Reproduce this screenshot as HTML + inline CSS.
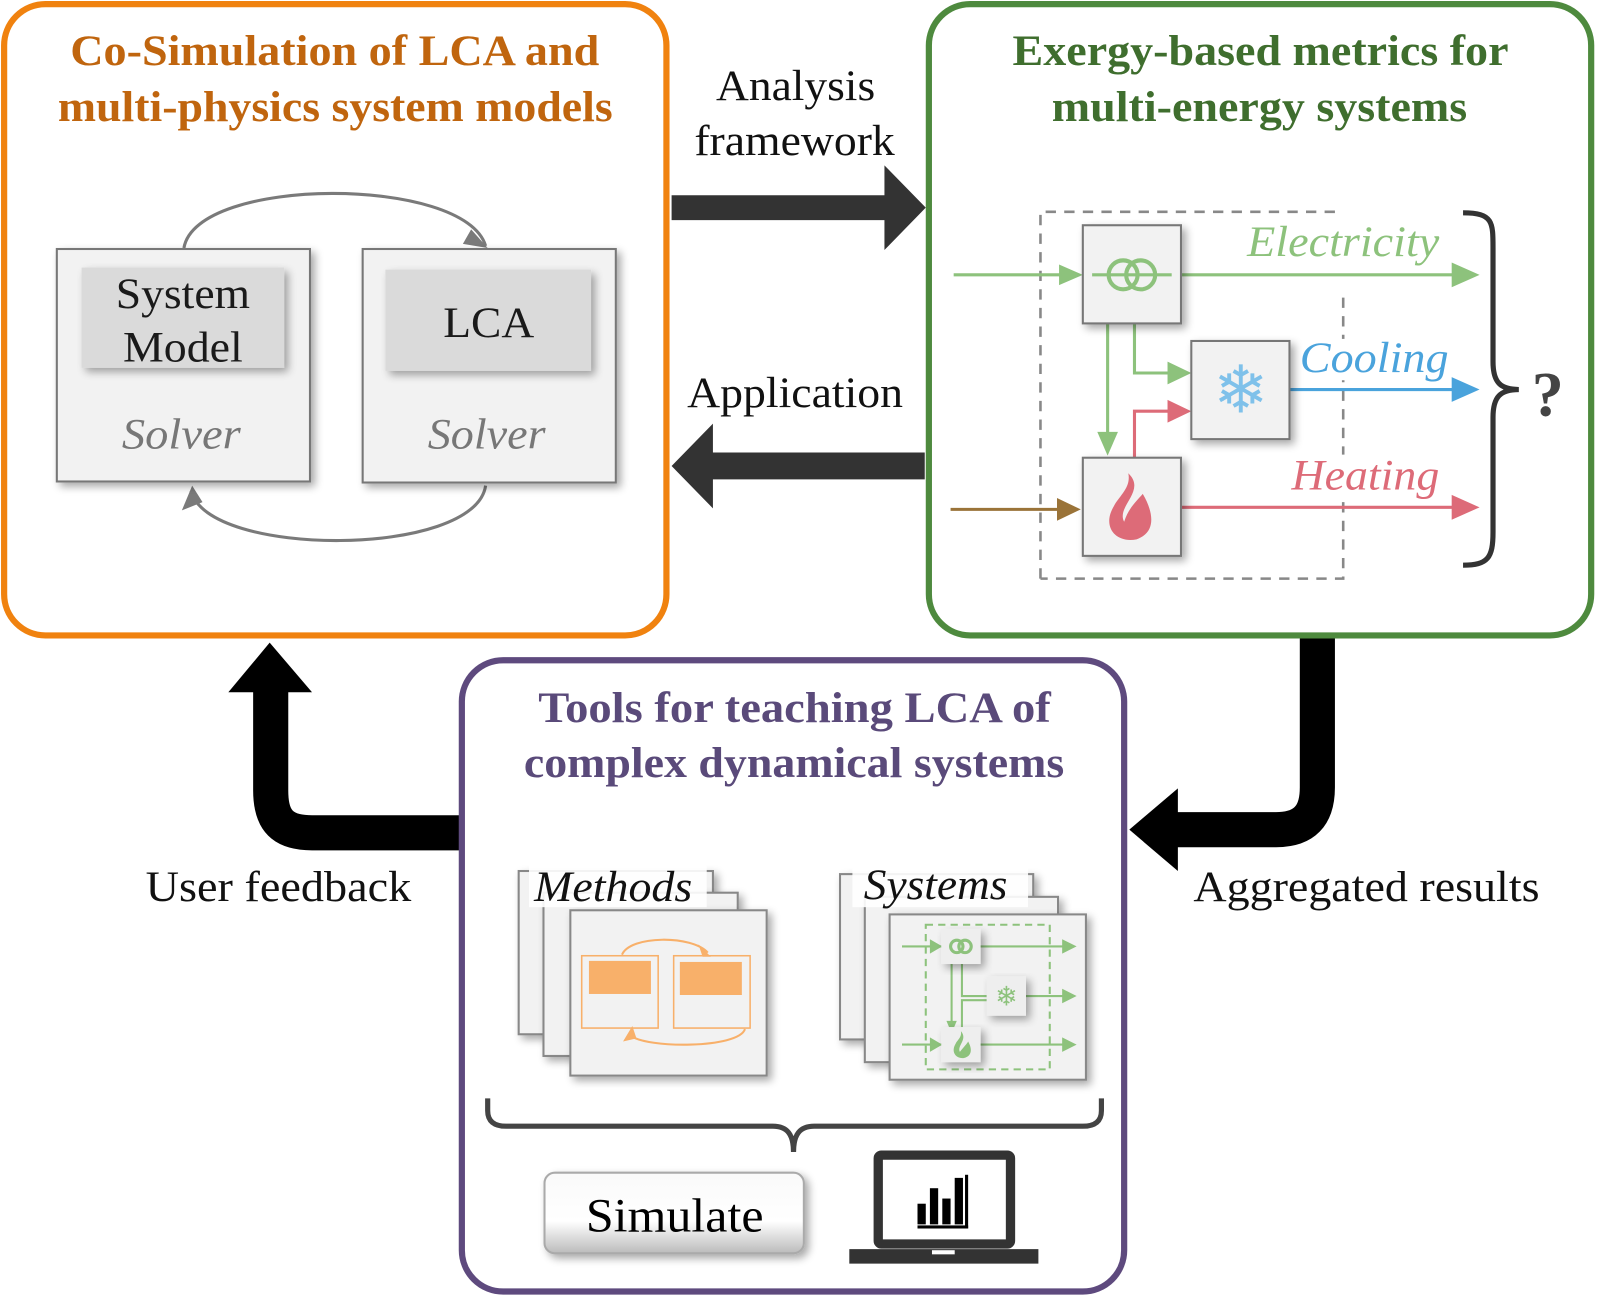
<!DOCTYPE html>
<html><head><meta charset="utf-8"><style>
html,body{margin:0;padding:0;background:#fff;}
svg{display:block;}
text{font-family:"Liberation Serif",serif;}
</style></head><body>
<svg width="1617" height="1306" viewBox="0 0 1565 1264" preserveAspectRatio="none" xmlns="http://www.w3.org/2000/svg">
<defs>
<filter id="sh" x="-20%" y="-20%" width="150%" height="150%"><feGaussianBlur in="SourceAlpha" stdDeviation="4"/><feOffset dx="4" dy="4"/><feComponentTransfer><feFuncA type="linear" slope="0.35"/></feComponentTransfer><feMerge><feMergeNode/><feMergeNode in="SourceGraphic"/></feMerge></filter>
<linearGradient id="btn" x1="0" y1="0" x2="0" y2="1"><stop offset="0" stop-color="#fafafa"/><stop offset="0.6" stop-color="#fff"/><stop offset="1" stop-color="#bbb"/></linearGradient>
</defs>

<!-- Orange box -->
<rect x="4" y="4" width="641" height="611" rx="40" fill="#fff" stroke="#F0820F" stroke-width="6"/>
<text x="68" y="63" font-size="42" font-weight="bold" fill="#C0650E" textLength="512" lengthAdjust="spacingAndGlyphs">Co-Simulation of LCA and</text>
<text x="56" y="117" font-size="42" font-weight="bold" fill="#C0650E" textLength="537" lengthAdjust="spacingAndGlyphs">multi-physics system models</text>

<path d="M178,240 C190,170 450,170 470,238" fill="none" stroke="#7a7a7a" stroke-width="3"/>
<path d="M456,222 L472,240 L448,236z" fill="#7a7a7a"/>
<path d="M470,470 C460,540 200,540 185,475" fill="none" stroke="#7a7a7a" stroke-width="3"/>
<path d="M186,470 L176,494 L196,486z" fill="#7a7a7a"/>

<rect x="55" y="241" width="245" height="225" fill="#f2f2f2" stroke="#777" stroke-width="2" filter="url(#sh)"/>
<rect x="79" y="259" width="196" height="97" fill="#dadada" filter="url(#sh)"/>
<text x="112" y="298" font-size="42" fill="#1a1a1a" textLength="130" lengthAdjust="spacingAndGlyphs">System</text>
<text x="119" y="350" font-size="42" fill="#1a1a1a" textLength="116" lengthAdjust="spacingAndGlyphs">Model</text>
<text x="118" y="434" font-size="42" font-style="italic" fill="#777" textLength="115" lengthAdjust="spacingAndGlyphs">Solver</text>

<rect x="351" y="241" width="245" height="226" fill="#f2f2f2" stroke="#777" stroke-width="2" filter="url(#sh)"/>
<rect x="373" y="261" width="199" height="98" fill="#dadada" filter="url(#sh)"/>
<text x="429" y="326" font-size="42" fill="#1a1a1a" textLength="88" lengthAdjust="spacingAndGlyphs">LCA</text>
<text x="414" y="434" font-size="42" font-style="italic" fill="#777" textLength="114" lengthAdjust="spacingAndGlyphs">Solver</text>

<!-- middle arrows -->
<text x="693" y="97" font-size="42" fill="#111" textLength="154" lengthAdjust="spacingAndGlyphs">Analysis</text>
<text x="672" y="150" font-size="42" fill="#111" textLength="194" lengthAdjust="spacingAndGlyphs">framework</text>
<path d="M650,189 L856,189 L856,160 L896,201 L856,242 L856,213 L650,213z" fill="#333"/>
<text x="665" y="394" font-size="42" fill="#111" textLength="209" lengthAdjust="spacingAndGlyphs">Application</text>
<path d="M895,438 L690,438 L690,410 L650,451 L690,492 L690,464 L895,464z" fill="#333"/>

<!-- Green box -->
<rect x="899" y="4" width="641" height="611" rx="40" fill="#fff" stroke="#4E8A3E" stroke-width="6"/>
<text x="980" y="63" font-size="42" font-weight="bold" fill="#3F6E2E" textLength="480" lengthAdjust="spacingAndGlyphs">Exergy-based metrics for</text>
<text x="1018" y="117" font-size="42" font-weight="bold" fill="#3F6E2E" textLength="402" lengthAdjust="spacingAndGlyphs">multi-energy systems</text>

<path d="M1007,560 L1007,205 L1300,205 M1300,288 L1300,560 L1007,560" fill="none" stroke="#888" stroke-width="2.5" stroke-dasharray="10,8"/>
<rect x="1256" y="328" width="140" height="40" fill="#fff"/>
<rect x="1250" y="440" width="140" height="40" fill="#fff"/>
<!-- electricity -->
<line x1="923" y1="266" x2="1030" y2="266" stroke="#8dc27c" stroke-width="3"/>
<path d="M1025,256 L1048,266 L1025,276z" fill="#8dc27c"/>
<line x1="1143" y1="266" x2="1410" y2="266" stroke="#8dc27c" stroke-width="3"/>
<path d="M1405,254 L1432,266 L1405,278z" fill="#8dc27c"/>
<text x="1207" y="248" font-size="42" font-style="italic" fill="#8dc27c" textLength="186" lengthAdjust="spacingAndGlyphs">Electricity</text>
<!-- internal -->
<path d="M1072,313 L1072,420" stroke="#8dc27c" stroke-width="3" fill="none"/>
<path d="M1062,418 L1072,441 L1082,418z" fill="#8dc27c"/>
<path d="M1098,313 L1098,361 L1135,361" stroke="#8dc27c" stroke-width="3" fill="none"/>
<path d="M1130,350 L1153,361 L1130,372z" fill="#8dc27c"/>
<path d="M1098,443 L1098,398 L1135,398" stroke="#dd6b78" stroke-width="3" fill="none"/>
<path d="M1130,387 L1153,398 L1130,409z" fill="#dd6b78"/>
<!-- cooling -->
<line x1="1248" y1="377" x2="1410" y2="377" stroke="#4aa3dc" stroke-width="3"/>
<path d="M1405,365 L1432,377 L1405,389z" fill="#4aa3dc"/>
<text x="1258" y="360" font-size="42" font-style="italic" fill="#4aa3dc" textLength="144" lengthAdjust="spacingAndGlyphs">Cooling</text>
<!-- heating -->
<line x1="920" y1="493" x2="1030" y2="493" stroke="#9a7338" stroke-width="3"/>
<path d="M1023,482 L1046,493 L1023,504z" fill="#9a7338"/>
<line x1="1143" y1="491" x2="1410" y2="491" stroke="#dd6b78" stroke-width="3"/>
<path d="M1405,479 L1432,491 L1405,503z" fill="#dd6b78"/>
<text x="1250" y="474" font-size="42" font-style="italic" fill="#dd6b78" textLength="143" lengthAdjust="spacingAndGlyphs">Heating</text>

<rect x="1048" y="218" width="95" height="95" fill="#f2f2f2" stroke="#777" stroke-width="2" filter="url(#sh)"/>
<line x1="1057" y1="266" x2="1134" y2="266" stroke="#8dc27c" stroke-width="3"/>
<circle cx="1087" cy="266" r="14" fill="none" stroke="#8dc27c" stroke-width="4"/>
<circle cx="1104" cy="266" r="14" fill="none" stroke="#8dc27c" stroke-width="4"/>
<rect x="1153" y="330" width="95" height="95" fill="#f2f2f2" stroke="#777" stroke-width="2" filter="url(#sh)"/>
<text x="1201" y="399" font-size="64" fill="#7fc1ea" text-anchor="middle" font-family="DejaVu Sans">❄</text>
<rect x="1048" y="443" width="95" height="95" fill="#f2f2f2" stroke="#777" stroke-width="2" filter="url(#sh)"/>
<path d="M1092,458 C1110,475 1080,490 1088,505 C1092,492 1100,485 1106,478 C1116,495 1120,515 1100,522 C1080,526 1066,510 1078,490 C1083,480 1095,472 1092,458z" fill="#dd6b78"/>

<path d="M1416,206 C1445,206 1445,215 1445,240 L1445,350 C1445,370 1452,377 1470,377 C1452,377 1445,384 1445,404 L1445,515 C1445,540 1440,547 1416,547" fill="none" stroke="#333" stroke-width="5"/>
<text x="1498" y="402" font-size="62" font-weight="bold" fill="#444" text-anchor="middle">?</text>

<!-- big black arrows -->
<path d="M1275,618 L1275,762 C1275,790 1262,803 1235,803 L1135,803" fill="none" stroke="#000" stroke-width="34"/>
<path d="M1140,763 L1093,803 L1140,843z" fill="#000"/>
<text x="1155" y="872" font-size="42" fill="#111" textLength="335" lengthAdjust="spacingAndGlyphs">Aggregated results</text>

<path d="M447,806 L302,806 C272,806 262,793 262,765 L262,665" fill="none" stroke="#000" stroke-width="34"/>
<path d="M221,670 L261,622 L302,670z" fill="#000"/>
<text x="141" y="872" font-size="42" fill="#111" textLength="257" lengthAdjust="spacingAndGlyphs">User feedback</text>

<!-- Purple box -->
<rect x="447" y="639" width="641" height="611" rx="40" fill="#fff" stroke="#5E4A7E" stroke-width="6"/>
<text x="521" y="699" font-size="42" font-weight="bold" fill="#5A4A7A" textLength="496" lengthAdjust="spacingAndGlyphs">Tools for teaching LCA of</text>
<text x="507" y="752" font-size="42" font-weight="bold" fill="#5A4A7A" textLength="523" lengthAdjust="spacingAndGlyphs">complex dynamical systems</text>

<!-- Methods stack -->
<rect x="502" y="843" width="188" height="158" fill="#f2f2f2" stroke="#888" stroke-width="2" filter="url(#sh)"/>
<rect x="526" y="864" width="188" height="158" fill="#f2f2f2" stroke="#888" stroke-width="2" filter="url(#sh)"/>
<rect x="552" y="881" width="190" height="160" fill="#f2f2f2" stroke="#888" stroke-width="2" filter="url(#sh)"/>
<rect x="512" y="836" width="172" height="42" fill="#fff" opacity="0.9"/>
<text x="517" y="872" font-size="42" font-style="italic" fill="#111" textLength="153" lengthAdjust="spacingAndGlyphs">Methods</text>
<rect x="563" y="925" width="74" height="70" fill="#f2f2f2" stroke="#f8b06a" stroke-width="1.5"/>
<rect x="652" y="925" width="74" height="70" fill="#f2f2f2" stroke="#f8b06a" stroke-width="1.5"/>
<rect x="570" y="930" width="60" height="32" fill="#f8b06a"/>
<rect x="658" y="931" width="60" height="32" fill="#f8b06a"/>
<path d="M602,924 C610,905 670,905 685,922" fill="none" stroke="#f8b06a" stroke-width="2"/>
<path d="M676,914 L688,926 L680,926z" fill="#f8b06a"/>
<path d="M721,996 C715,1015 625,1015 610,1002" fill="none" stroke="#f8b06a" stroke-width="2"/>
<path d="M603,1008 L612,993 L616,1005z" fill="#f8b06a"/>

<!-- Systems stack -->
<rect x="813" y="846" width="187" height="160" fill="#f2f2f2" stroke="#888" stroke-width="2" filter="url(#sh)"/>
<rect x="837" y="868" width="187" height="160" fill="#f2f2f2" stroke="#888" stroke-width="2" filter="url(#sh)"/>
<rect x="861" y="885" width="190" height="160" fill="#f2f2f2" stroke="#888" stroke-width="2" filter="url(#sh)"/>
<rect x="825" y="836" width="170" height="42" fill="#fff" opacity="0.9"/>
<text x="836" y="870" font-size="42" font-style="italic" fill="#111" textLength="139" lengthAdjust="spacingAndGlyphs">Systems</text>
<rect x="896" y="895" width="120" height="140" fill="none" stroke="#8dc27c" stroke-width="2" stroke-dasharray="7,5"/>
<g stroke="#8dc27c" stroke-width="2" fill="none">
<line x1="873" y1="916" x2="1035" y2="916"/><line x1="960" y1="964" x2="1035" y2="964"/><line x1="873" y1="1011" x2="1035" y2="1011"/>
<path d="M921,930 L921,995 M931,930 L931,964 L955,964 M931,995 L931,968 L955,968"/>
</g>
<g fill="#8dc27c">
<path d="M1028,909 L1042,916 L1028,923z"/><path d="M1028,957 L1042,964 L1028,971z"/><path d="M1028,1004 L1042,1011 L1028,1018z"/>
<path d="M900,909 L912,916 L900,923z"/><path d="M900,1004 L912,1011 L900,1018z"/>
<path d="M916,988 L921,1000 L926,988z"/>
</g>
<rect x="911" y="899" width="38" height="34" fill="#eee" filter="url(#sh)"/>
<circle cx="926" cy="916" r="6" fill="none" stroke="#8dc27c" stroke-width="3"/><circle cx="934" cy="916" r="6" fill="none" stroke="#8dc27c" stroke-width="3"/>
<rect x="955" y="945" width="38" height="38" fill="#eee" filter="url(#sh)"/>
<text x="974" y="973" font-size="26" fill="#8dc27c" text-anchor="middle" font-family="DejaVu Sans">❄</text>
<rect x="911" y="994" width="38" height="34" fill="#eee" filter="url(#sh)"/>
<path d="M930,998 C937,1006 926,1012 929,1018 C933,1013 936,1010 937,1008 C941,1015 941,1022 933,1024 C925,1025 920,1018 925,1010 C927,1006 931,1004 930,998z" fill="#8dc27c"/>

<!-- brace -->
<path d="M472,1063 L472,1075 C472,1085 478,1090 490,1090 L748,1090 C762,1090 768,1098 768,1115 C768,1098 774,1090 788,1090 L1048,1090 C1060,1090 1066,1085 1066,1075 L1066,1063" fill="none" stroke="#444" stroke-width="5"/>

<!-- Simulate button -->
<rect x="527" y="1135" width="251" height="78" rx="10" fill="url(#btn)" stroke="#aaa" stroke-width="2" filter="url(#sh)"/>
<text x="567" y="1192" font-size="46" fill="#000" textLength="172" lengthAdjust="spacingAndGlyphs">Simulate</text>

<!-- laptop -->
<rect x="850" y="1118" width="128" height="86" rx="3" fill="#fff" stroke="#333" stroke-width="9"/>
<path d="M822,1209 L1005,1209 L1005,1223 L822,1223z" fill="#333"/>
<rect x="902" y="1210" width="22" height="4" fill="#fff"/>
<g fill="#000"><rect x="888" y="1165" width="8" height="20"/><rect x="900" y="1150" width="8" height="35"/><rect x="912" y="1160" width="8" height="25"/><rect x="924" y="1140" width="8" height="45"/><rect x="934" y="1137" width="3" height="52"/><rect x="888" y="1186" width="49" height="3"/></g>
</svg>
</body></html>
